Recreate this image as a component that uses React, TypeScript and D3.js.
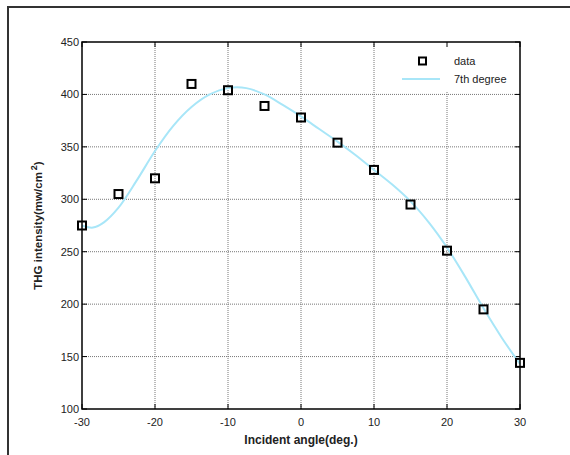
import React from "react";
import * as d3 from "d3";

const angles = [-30, -25, -20, -15, -10, -5, 0, 5, 10, 15, 20, 25, 30];
const intensity = [275, 305, 320, 410, 404, 389, 378, 354, 328, 295, 251, 195, 144];

const fitAngles = [-30, -28.5, -27, -25, -22.5, -20, -17.5, -15, -12.5, -10, -7.5, -5, -2.5, 0, 2.5, 5, 7.5, 10, 12.5, 15, 17.5, 20, 22.5, 25, 27.5, 30];
const fitValues = [275, 273, 278, 292, 318, 346, 370, 388, 400, 406, 406, 400, 390, 379, 367, 355, 342, 328, 314, 298, 278, 254, 226, 196, 168, 143];

const xTicks = [-30, -20, -10, 0, 10, 20, 30];
const yTicks = [100, 150, 200, 250, 300, 350, 400, 450];

export default function App() {
  const W = 570, H = 455;
  const L = 82, R = 520, T = 42, B = 409;
  const x = d3.scaleLinear().domain([-30, 30]).range([L, R]);
  const y = d3.scaleLinear().domain([100, 450]).range([B, T]);
  const fitPts = fitAngles.map((a, i) => [a, fitValues[i]] as [number, number]);
  const line = d3.line<[number, number]>().x(d => x(d[0])).y(d => y(d[1])).curve(d3.curveCatmullRom.alpha(0.5));
  const font = "Arial, 'Liberation Sans', sans-serif";
  const tick = 5;
  return (
    <svg width={W} height={H} style={{ position: "absolute", left: 0, top: 0 }} fontFamily={font}>
      <rect x={0} y={0} width={W} height={H} fill="#fff" />
      <path d={`M8,${H} L8,7 L${W},7`} fill="none" stroke="#333" strokeWidth={2} />
      {xTicks.slice(1, -1).map(t => (
        <line key={"gx" + t} x1={x(t)} x2={x(t)} y1={T} y2={B} stroke="#777" strokeWidth={1} strokeDasharray="1,1" />
      ))}
      {yTicks.slice(1, -1).map(t => (
        <line key={"gy" + t} x1={L} x2={R} y1={y(t)} y2={y(t)} stroke="#777" strokeWidth={1} strokeDasharray="1,1" />
      ))}
      <rect x={378} y={T} width={R - 378} height={49} fill="#fff" />
      {xTicks.map(t => (
        <g key={"tx" + t}>
          <line x1={x(t)} x2={x(t)} y1={B} y2={B - tick} stroke="#000" />
          <line x1={x(t)} x2={x(t)} y1={T} y2={T + tick} stroke="#000" />
          <text x={x(t)} y={426} fontSize={11} textAnchor="middle" fill="#222">{t}</text>
        </g>
      ))}
      {yTicks.map(t => (
        <g key={"ty" + t}>
          <line x1={L} x2={L + tick} y1={y(t)} y2={y(t)} stroke="#000" />
          <line x1={R} x2={R - tick} y1={y(t)} y2={y(t)} stroke="#000" />
          <text x={79} y={y(t) + 4} fontSize={11} textAnchor="end" fill="#222">{t}</text>
        </g>
      ))}
      <path d={line(fitPts) || ""} fill="none" stroke="#a8e6f8" strokeWidth={2} />
      {angles.map((a, i) => (
        <rect key={"d" + i} x={x(a) - 4} y={y(intensity[i]) - 4} width={8} height={8} fill="none" stroke="#000" strokeWidth={2} />
      ))}
      <rect x={L} y={T} width={R - L} height={B - T} fill="none" stroke="#000" strokeWidth={1.5} />
      <rect x={419} y={57.5} width={7} height={7} fill="none" stroke="#000" strokeWidth={2} />
      <text x={454} y={65} fontSize={11} fill="#222">data</text>
      <line x1={402} x2={440} y1={79} y2={79} stroke="#a8e6f8" strokeWidth={2} />
      <text x={454} y={83} fontSize={11} fill="#222">7th degree</text>
      <text x={(L + R) / 2} y={444} fontSize={12} fontWeight="bold" textAnchor="middle" fill="#222">Incident angle(deg.)</text>
      <text transform={`translate(42,${(T + B) / 2}) rotate(-90)`} fontSize={11.5} fontWeight="bold" textAnchor="middle" fill="#222">
        THG intensity(mw/cm<tspan dx={2} dy={-5} fontSize={9}>2</tspan><tspan dy={5}>)</tspan>
      </text>
    </svg>
  );
}
